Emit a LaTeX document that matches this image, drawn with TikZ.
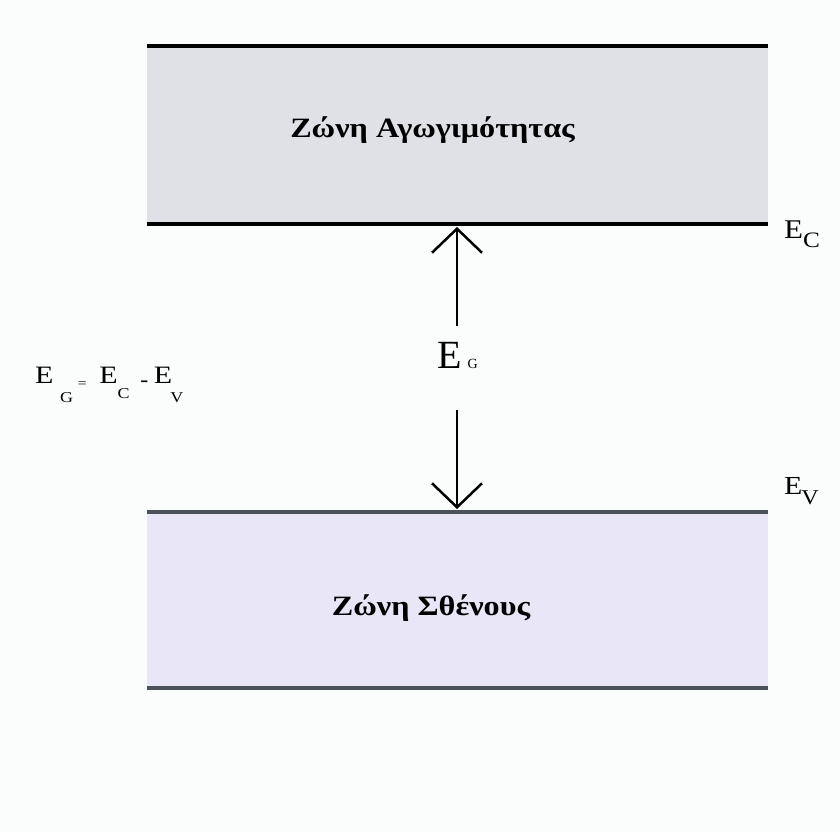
\documentclass[tikz,border=0pt]{standalone}
\usepackage{fontspec}
\setmainfont{Liberation Serif}
\usetikzlibrary{arrows.meta}
\definecolor{bg}{HTML}{FBFDFD}
\definecolor{cband}{HTML}{DFE1E6}
\definecolor{vband}{HTML}{E8E6F7}
\definecolor{vline}{HTML}{4B525A}
\newcommand{\fs}[1]{\fontsize{#1}{#1}\selectfont}
\tikzset{
  bandtext/.style={font=\fs{28}\bfseries, inner sep=0pt, anchor=base},
  lbl/.style={inner sep=0pt, anchor=base west},
  gaparrow/.style={line width=2.5pt, -{Straight Barb[length=24pt,width=50pt,line width=2.5pt]}},
}
\begin{document}
\begin{tikzpicture}[x=1pt,y=-1pt]
\fill[bg] (0,0) rectangle (840,832);
\useasboundingbox (0,0) rectangle (840,832);
% conduction band
\fill[cband] (147,46) rectangle (768,224);
\draw[line width=4pt, black] (147,46) -- (768,46);
\draw[line width=4pt, black] (147,224) -- (768,224);
\node[bandtext] (cb) at (432.5,138) {\scalebox{1.15}[1]{Ζώνη Αγωγιμότητας}};
% valence band
\fill[vband] (147,512) rectangle (768,688);
\draw[line width=4pt, vline] (147,512) -- (768,512);
\draw[line width=4pt, vline] (147,688) -- (768,688);
\node[bandtext] (vb) at (431,615) {\scalebox{1.15}[1]{Ζώνη Σθένους}};
% gap label and arrows
\node[lbl, font=\fs{40}] (eg) at (437,368) {E\hspace{6pt}{\fs{14}G}};
\coordinate (ctop) at (457,227);
\coordinate (cbot) at (457,509);
\coordinate (ustart) at (457,326);
\coordinate (dstart) at (457,410);
\draw[gaparrow] (ustart) -- (ctop);
\draw[gaparrow] (dstart) -- (cbot);
% level labels
\node[lbl] (ec) at (784,238) {\scalebox{1.15}[1]{\fs{27}E\raisebox{-9pt}{\fs{22}C}}};
\node[lbl] (ev) at (784,494) {\scalebox{1.15}[1]{\fs{26}E\hspace{-1pt}\raisebox{-10pt}{\fs{21}V}}};
% formula
\node[lbl] (formula) at (35,383)
  {\scalebox{1.2}[1]{\fs{25}E\hspace{5.5pt}\raisebox{-19pt}{\fs{15}G}\hspace{4pt}\raisebox{-4pt}{\fs{13}=}\hspace{10.5pt}E\raisebox{-15pt}{\fs{15}C}\hspace{9pt}\raisebox{-3pt}{\fs{20}\textbf{-}}\hspace{4.5pt}E\hspace{-1.5pt}\raisebox{-19pt}{\fs{15}V}}};
\end{tikzpicture}
\end{document}
